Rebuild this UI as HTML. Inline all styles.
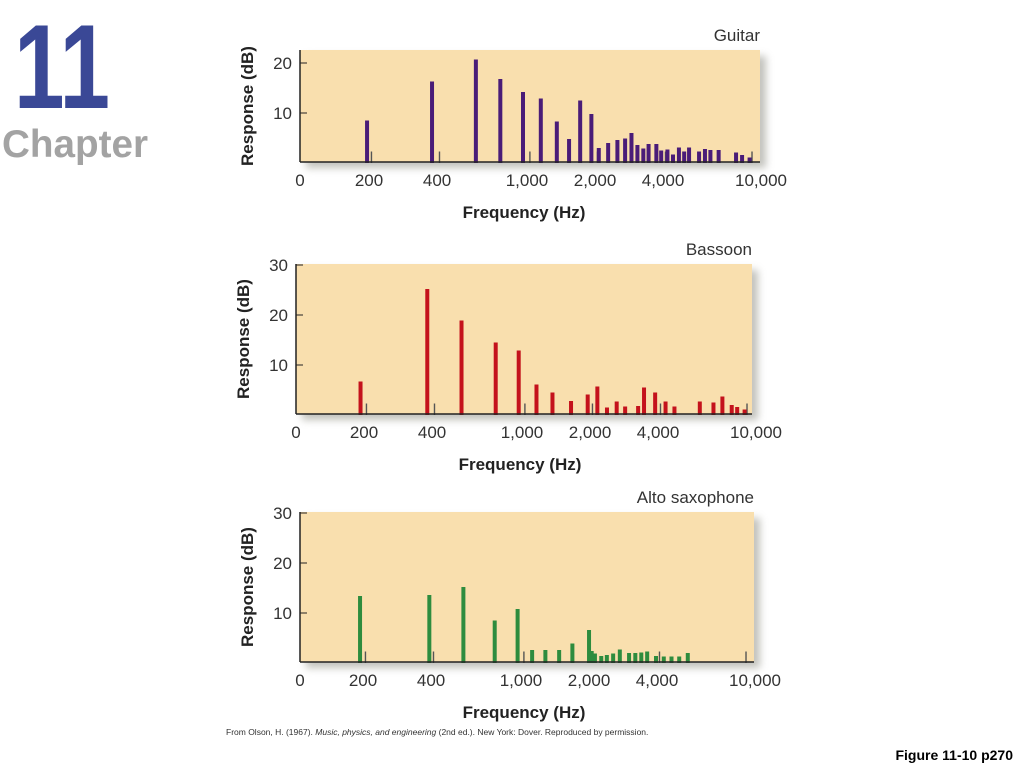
<!DOCTYPE html>
<html><head><meta charset="utf-8"><style>
body{margin:0;width:1024px;height:768px;background:#fff;overflow:hidden;font-family:"Liberation Sans",sans-serif}
svg{position:absolute;left:0;top:0}
</style></head><body>
<svg id="s" width="1024" height="768" xmlns="http://www.w3.org/2000/svg">
<defs><filter id="blur" x="-10%" y="-10%" width="130%" height="140%"><feGaussianBlur stdDeviation="4"/></filter></defs>
<text x="14" y="108" font-size="120" font-weight="bold" fill="#3a4896" textLength="96" lengthAdjust="spacingAndGlyphs">11</text>
<text x="2" y="157" font-size="39" font-weight="bold" fill="#a3a3a3" textLength="146" lengthAdjust="spacingAndGlyphs">Chapter</text>
<text x="226" y="735" font-size="8.5" fill="#333">From Olson, H. (1967). <tspan font-style="italic">Music, physics, and engineering</tspan> (2nd ed.). New York: Dover. Reproduced by permission.</text>
<text x="1013" y="760" font-size="14" font-weight="bold" text-anchor="end" fill="#000">Figure 11-10 p270</text>
</svg>
<script>
const NS="http://www.w3.org/2000/svg";
const svg=document.getElementById('s');
const xTickValues=[200,400,1000,2000,4000,10000];
const xTickLabels=["200","400","1,000","2,000","4,000","10,000"];
const guitarFreq=[196,380,594,762,960,1151,1355,1535,1719,1927,2078,2286,2512,2717,2899,3080,3271,3451,3736,3924,4182,4426,4702,4960,5213,5772,6130,6480,7047,8414,8947,9658];
const guitarDb=[8.5,16.3,20.7,16.8,14.2,12.9,8.3,4.8,12.5,9.8,3,4,4.6,4.9,6,3.6,2.9,3.8,3.8,2.5,2.7,1.7,3.1,2.3,3.1,2.3,2.8,2.6,2.6,2.1,1.6,1.1];
const bassoonFreq=[193,381,540,765,967,1159,1364,1648,1953,2155,2377,2624,2860,3264,3467,3883,4317,4727,6120,7034,7704,8472,8956,9660];
const bassoonDb=[6.7,25.2,18.9,14.5,12.9,6.1,4.5,2.8,4.1,5.7,1.5,2.7,1.7,1.8,5.5,4.5,2.7,1.7,2.7,2.5,3.7,2,1.6,1.1];
const saxFreq=[194,393,556,765,966,1120,1282,1475,1688,2000,2055,2124,2265,2398,2557,2737,3007,3205,3406,3616,3957,4283,4634,5013,5470];
const saxDb=[13.4,13.6,15.2,8.5,10.8,2.6,2.6,2.6,3.9,6.6,2.4,1.9,1.4,1.6,1.9,2.7,2,2,2.1,2.3,1.4,1.3,1.3,1.3,2];
const guitarYTicks=[10,20];
const otherYTicks=[10,20,30];
const refTickFreq=[205,410,1030,2050,4100,9900];

function el(tag,attrs,parent){const e=document.createElementNS(NS,tag);for(const k in attrs)e.setAttribute(k,attrs[k]);(parent||svg).appendChild(e);return e;}

function chart(cfg){
  const g=el('g',{});
  
  
  const xs=f=>cfg.x1000+226*(Math.log10(f)-3);
  const ys=v=>cfg.y0-5*v;
  const sh=el('rect',{x:cfg.left+6,y:cfg.top+6,width:cfg.right-cfg.left,height:cfg.base-cfg.top,fill:'#9a9a90',opacity:0.6,filter:'url(#blur)'},g);
  
  
  const bg=el('rect',{x:cfg.left,y:cfg.top,width:cfg.right-cfg.left,height:cfg.base-cfg.top,fill:'#f9dfae'},g);
  
  
  refTickFreq.forEach(f=>{
    const t=el('rect',{x:xs(f)-0.7,y:ys(2.3),width:1.4,height:cfg.y0-ys(2.3),fill:'#555'},g);
    
    
  });
  cfg.freq.forEach((f,i)=>{
    const h=cfg.y0-ys(cfg.db[i]);
    const b=el('rect',{x:xs(f)-2,y:ys(cfg.db[i]),width:4,height:h,fill:cfg.color},g);
    
    
  });
  el('line',{x1:cfg.left,y1:cfg.top,x2:cfg.left,y2:cfg.base,stroke:'#222','stroke-width':1.5},g);
  el('line',{x1:cfg.left,y1:cfg.base,x2:cfg.right,y2:cfg.base,stroke:'#222','stroke-width':1.5},g);
  cfg.yticks.forEach(v=>{
    el('line',{x1:cfg.left,y1:ys(v),x2:cfg.left+7,y2:ys(v),stroke:'#222','stroke-width':1},g);
    const t=el('text',{x:cfg.left-8,y:ys(v)+6,'font-size':17,'text-anchor':'end',fill:'#333'},g);
    t.textContent=v;
    
    
  });
  const z=el('text',{x:cfg.left,y:cfg.base+24,'font-size':17,'text-anchor':'middle',fill:'#333'},g);
  z.textContent='0';
  
  
  xTickValues.forEach((f,i)=>{
    const t=el('text',{x:xs(f)+(i==5?8:0),y:cfg.base+24,'font-size':17,'text-anchor':'middle',fill:'#333'},g);
    t.textContent=xTickLabels[i];
    
    
  });
  const xt=el('text',{x:cfg.left+224,y:cfg.base+56,'font-size':17,'font-weight':'bold','text-anchor':'middle',fill:'#222'},g);
  xt.textContent='Frequency (Hz)';
  
  
  const cy=(cfg.top+cfg.base)/2;
  const yt=el('text',{x:cfg.left-47,y:cy,'font-size':17,'font-weight':'bold','text-anchor':'middle',fill:'#222',transform:`rotate(-90 ${cfg.left-47} ${cy})`},g);
  yt.textContent='Response (dB)';
  
  
  const tt=el('text',{x:cfg.right,y:cfg.top-9,'font-size':17,'text-anchor':'end',fill:'#333'},g);
  tt.textContent=cfg.title;
  
  
}
chart({name:'guitar',title:'Guitar',left:300,right:760,top:50,base:162,y0:163,x1000:527,freq:guitarFreq,db:guitarDb,color:'#4a1c78',yticks:guitarYTicks});
chart({name:'bassoon',title:'Bassoon',left:296,right:752,top:264,base:414,y0:415,x1000:522,freq:bassoonFreq,db:bassoonDb,color:'#c4121c',yticks:otherYTicks});
chart({name:'saxophone',title:'Alto saxophone',left:300,right:754,top:512,base:662,y0:663,x1000:521,freq:saxFreq,db:saxDb,color:'#2e8c3e',yticks:otherYTicks});
</script>
</body></html>
